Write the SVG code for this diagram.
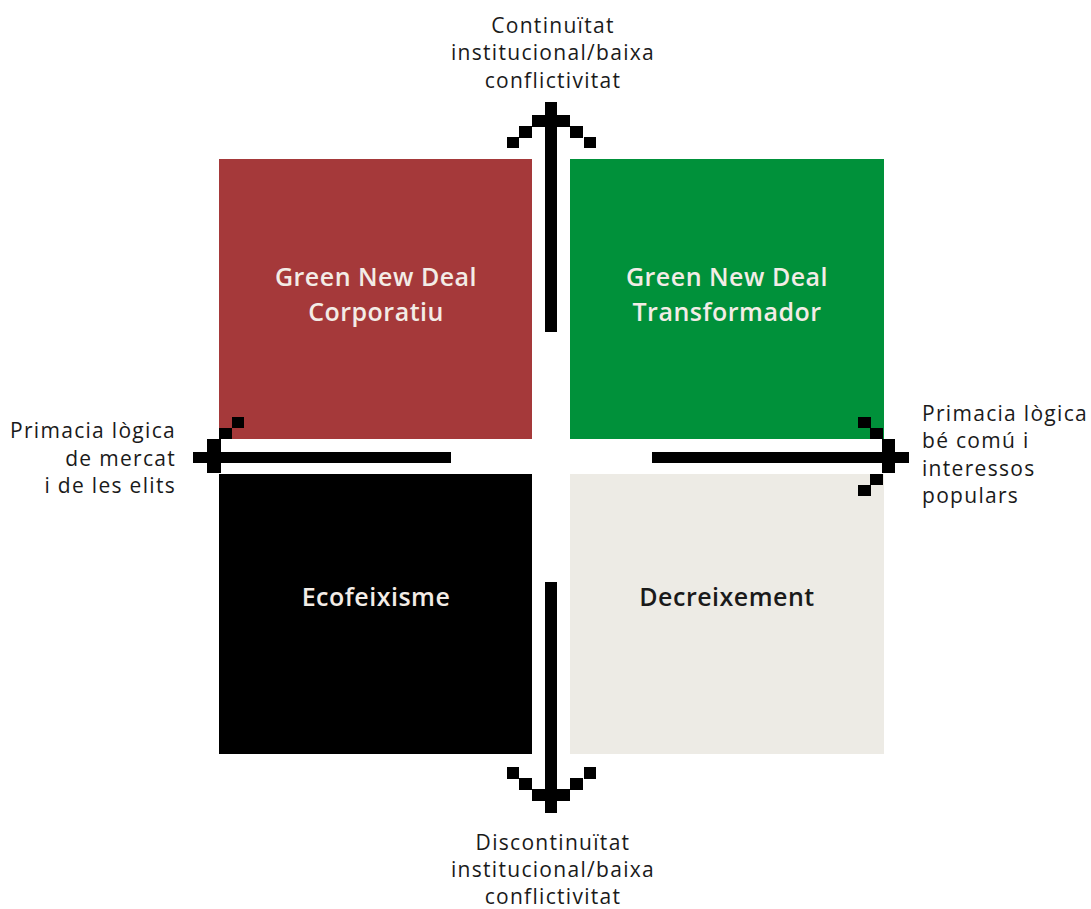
<svg xmlns="http://www.w3.org/2000/svg" width="1091" height="909" viewBox="0 0 1091 909">
<style>
.lbl{font-family:"Open Sans",Lato,"Liberation Sans",sans-serif;font-size:21px;letter-spacing:1.3px;fill:#1a1a1a}
.box{font-family:"Open Sans",Lato,"Liberation Sans",sans-serif;font-size:25px;letter-spacing:0.5px;font-weight:600;text-anchor:middle}
.px{fill:#000}
</style>
<rect width="1091" height="909" fill="#fff"/>
<g id="node-gnd-corporatiu">
<rect x="219" y="159" width="313" height="280" fill="#a5393a"/>
<text class="box" x="376" y="286" fill="#f3ece6">Green New Deal</text>
<text class="box" x="376" y="321" fill="#f3ece6">Corporatiu</text>
</g>
<g id="node-gnd-transformador">
<rect x="570" y="159" width="314" height="280" fill="#00913a"/>
<text class="box" x="727" y="286" fill="#f3ece6">Green New Deal</text>
<text class="box" x="727" y="321" fill="#f3ece6">Transformador</text>
</g>
<g id="node-ecofeixisme">
<rect x="219" y="474" width="313" height="280" fill="#000"/>
<text class="box" x="376" y="606" fill="#f3ece6">Ecofeixisme</text>
</g>
<g id="node-decreixement">
<rect x="570" y="474" width="314" height="280" fill="#edebe5"/>
<text class="box" x="727" y="606" fill="#1a1a1a">Decreixement</text>
</g>
<g id="connectors">
<!-- up arrow -->
<rect class="px" x="545" y="102" width="12" height="230"/>
<rect class="px" x="532" y="115" width="38" height="12"/>
<rect class="px" x="519" y="126" width="13" height="12"/>
<rect class="px" x="570" y="126" width="13" height="12"/>
<rect class="px" x="507" y="137" width="12" height="11"/>
<rect class="px" x="584" y="137" width="12" height="11"/>
<!-- down arrow -->
<rect class="px" x="545" y="582" width="12" height="231"/>
<rect class="px" x="532" y="789" width="38" height="12"/>
<rect class="px" x="519" y="778" width="13" height="12"/>
<rect class="px" x="570" y="778" width="13" height="12"/>
<rect class="px" x="507" y="767" width="12" height="12"/>
<rect class="px" x="584" y="767" width="12" height="12"/>
<!-- left arrow -->
<rect class="px" x="193" y="452" width="258" height="11"/>
<rect class="px" x="207" y="439" width="14" height="34"/>
<rect class="px" x="219" y="428" width="13" height="11"/>
<rect class="px" x="232" y="417" width="12" height="11"/>
<rect class="px" x="219" y="474" width="13" height="11"/>
<rect class="px" x="232" y="485" width="12" height="11"/>
<!-- right arrow -->
<rect class="px" x="652" y="452" width="257" height="11"/>
<rect class="px" x="882" y="439" width="13" height="34"/>
<rect class="px" x="870" y="428" width="13" height="11"/>
<rect class="px" x="858" y="417" width="13" height="11"/>
<rect class="px" x="870" y="474" width="13" height="11"/>
<rect class="px" x="858" y="485" width="13" height="11"/>
</g>
<g id="axis-labels">
<text class="lbl" text-anchor="middle" x="553" y="33">Continuïtat</text>
<text class="lbl" text-anchor="middle" x="553" y="60">institucional/baixa</text>
<text class="lbl" text-anchor="middle" x="553" y="88">conflictivitat</text>
<text class="lbl" text-anchor="middle" x="553" y="850">Discontinuïtat</text>
<text class="lbl" text-anchor="middle" x="553" y="877">institucional/baixa</text>
<text class="lbl" text-anchor="middle" x="553" y="904">conflictivitat</text>
<text class="lbl" text-anchor="end" x="176" y="438">Primacia lògica</text>
<text class="lbl" text-anchor="end" x="176" y="466">de mercat</text>
<text class="lbl" text-anchor="end" x="176" y="493">i de les elits</text>
<text class="lbl" x="922" y="421">Primacia lògica</text>
<text class="lbl" x="922" y="448">bé comú i</text>
<text class="lbl" x="922" y="476">interessos</text>
<text class="lbl" x="922" y="503">populars</text>
</g>
</svg>
